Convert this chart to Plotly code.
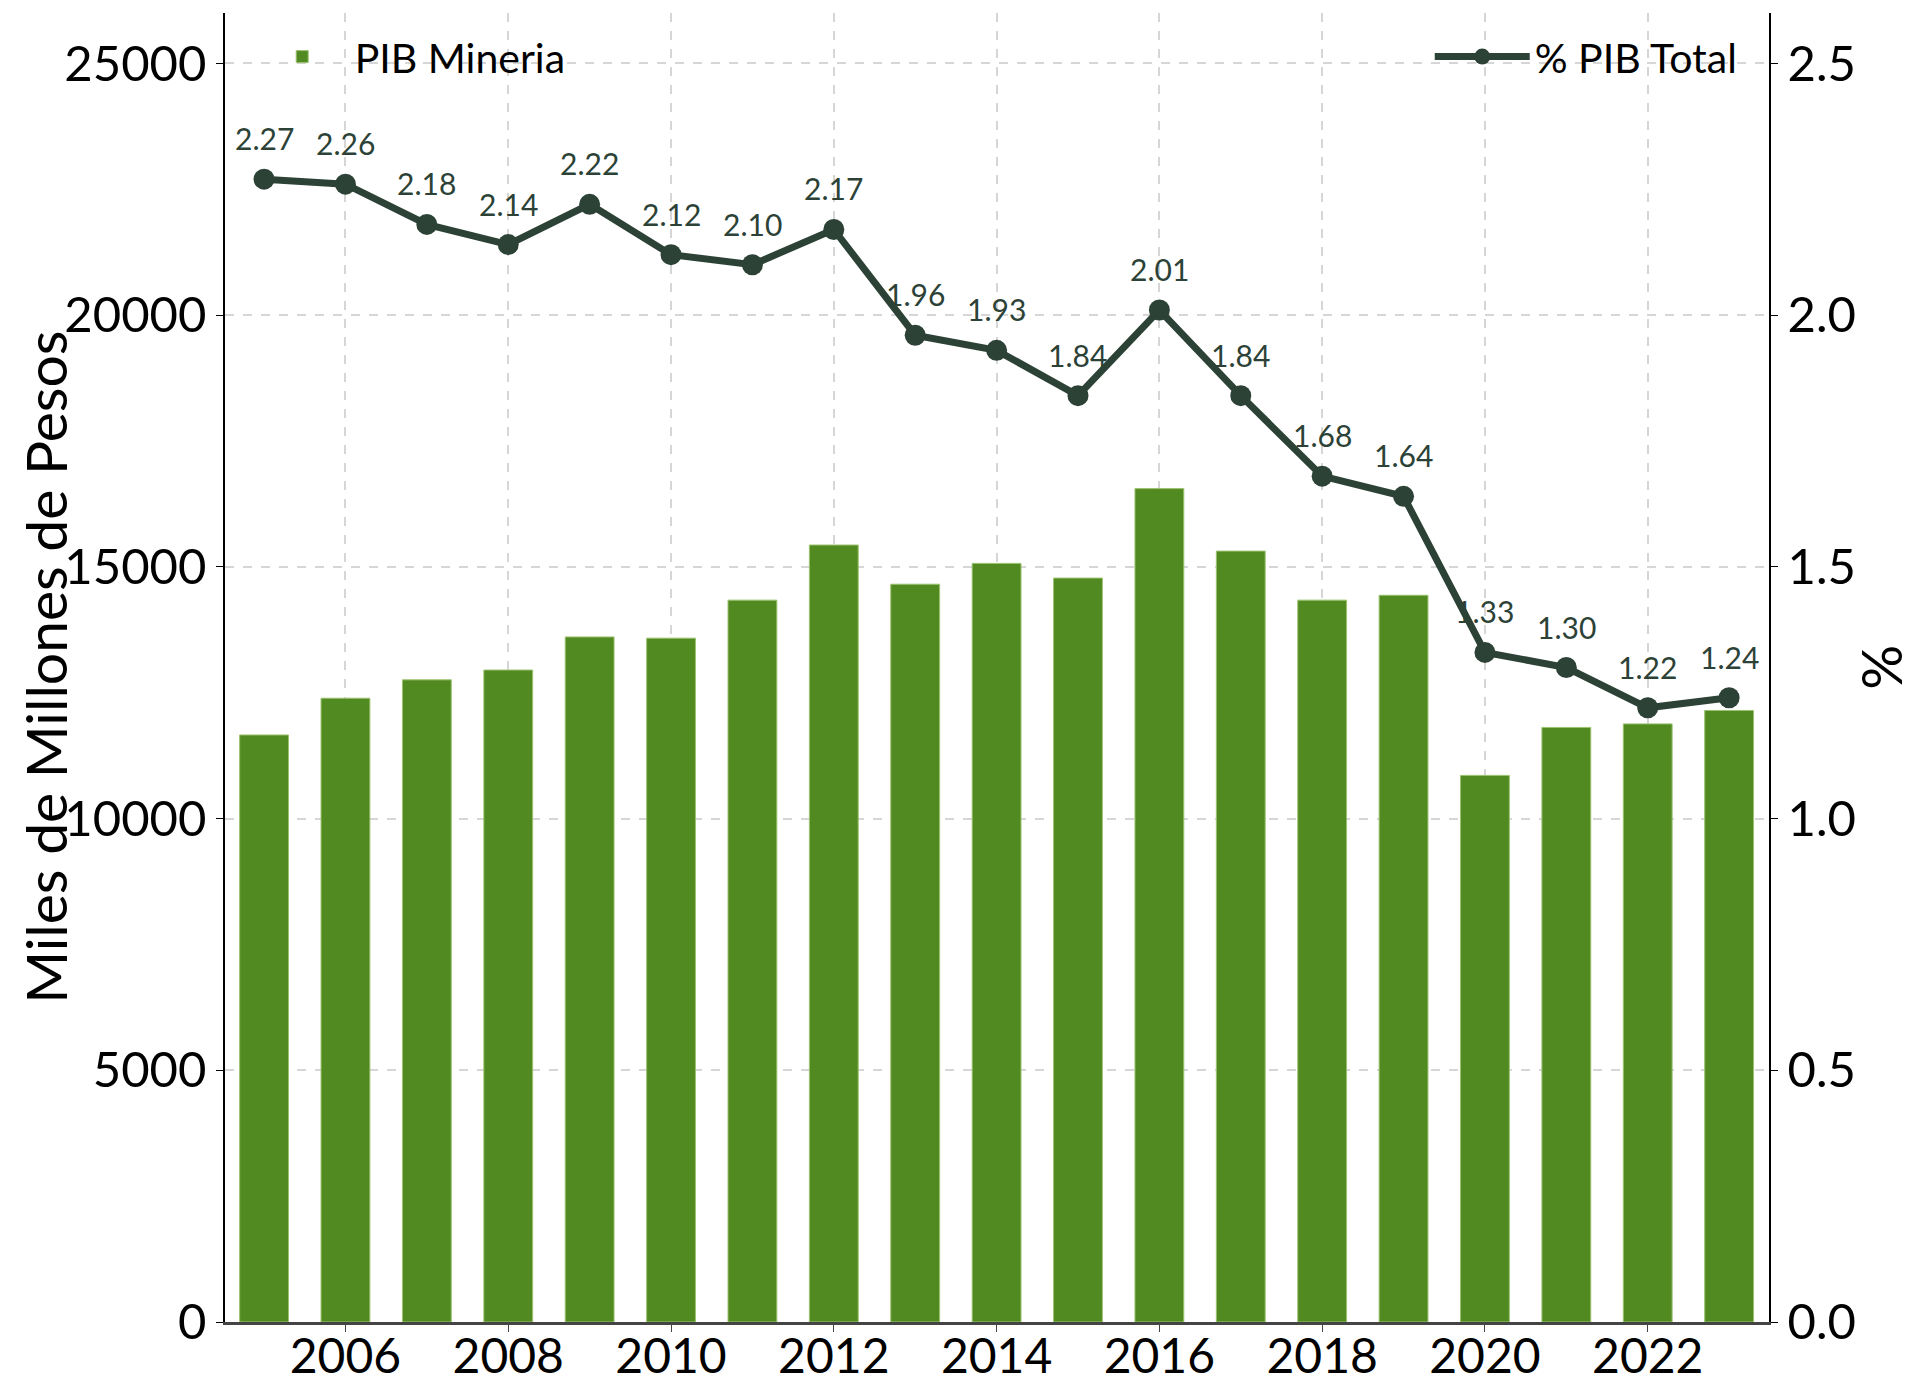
import plotly.graph_objects as go

# datos
anios = list(range(2005, 2024))
pib_mineria = [11660, 12390, 12755, 12950, 13607, 13583, 14338, 15433, 14654, 15068,
               14776, 16553, 15312, 14338, 14435, 10857, 11810, 11880, 12147]
pct_pib_total = [2.27, 2.26, 2.18, 2.14, 2.22, 2.12, 2.10, 2.17, 1.96, 1.93,
                 1.84, 2.01, 1.84, 1.68, 1.64, 1.33, 1.30, 1.22, 1.24]
ticks_x = list(range(2006, 2023, 2))

verde_barra = "#528a22"
verde_linea = "#2d4237"
fuente = "Lato"

fig = go.Figure()

fig.add_trace(go.Bar(
    x=anios, y=pib_mineria, name="PIB Mineria", width=0.6,
    marker=dict(color=verde_barra, line=dict(color="#9cc270", width=1)),
    legend="legend", showlegend=True,
))

fig.add_trace(go.Scatter(
    x=anios, y=pct_pib_total, name="% PIB Total", yaxis="y2",
    mode="lines+markers",
    line=dict(color=verde_linea, width=7),
    marker=dict(color=verde_linea, size=21),
    legend="legend2", showlegend=True,
))

# etiquetas de los puntos
for a, v in zip(anios, pct_pib_total):
    fig.add_annotation(x=a, y=v, yref="y2", text=f"{v:.2f}", showarrow=False,
                       yshift=41, font=dict(family=fuente, size=30, color=verde_linea))

# titulos de los ejes como anotaciones (el standoff no se respeta sin automargin)
fig.add_annotation(text="Miles de Millones de Pesos", xref="paper", yref="paper",
                   x=-0.117, y=0.5, textangle=-90, showarrow=False,
                   xanchor="center", yanchor="middle", font=dict(size=57))
fig.add_annotation(text="%", xref="paper", yref="paper",
                   x=1.072, y=0.5, textangle=-90, showarrow=False,
                   xanchor="center", yanchor="middle", font=dict(size=56))

grid = dict(showgrid=True, gridcolor="#d6d6d6", griddash="dash", gridwidth=1.5)

# la pagina tiene 8px de margen propio, de ahi 1912x1382
fig.update_layout(
    width=1912, height=1382,
    margin=dict(l=217, r=151, t=5, b=68),
    plot_bgcolor="white", paper_bgcolor="white",
    font=dict(family=fuente, size=48, color="black"),
    showlegend=True,
    xaxis=dict(range=[2004.52, 2023.49], tickvals=ticks_x, ticks="outside", ticklen=7,
               tickcolor="#444", showline=True, linecolor="#444", linewidth=3,
               tickfont=dict(size=48), ticklabelstandoff=-17,
               zeroline=False, automargin=False, **grid),
    yaxis=dict(range=[0, 26000], dtick=5000, tickformat="d", ticks="outside", ticklen=7,
               tickcolor="black", showline=True, linecolor="black", linewidth=1.5,
               zeroline=False, automargin=False, tickfont=dict(size=49), **grid),
    yaxis2=dict(range=[0, 2.6], dtick=0.5, tickformat=".1f", overlaying="y", side="right",
                ticks="outside", ticklen=7, tickcolor="black", showline=True,
                linecolor="black", linewidth=1.5, showgrid=False, zeroline=False,
                automargin=False, tickfont=dict(size=49)),
    legend=dict(x=0.016, y=0.992, xanchor="left", yanchor="top", bgcolor="rgba(0,0,0,0)",
                font=dict(size=41, family=fuente), itemwidth=95),
    legend2=dict(x=0.983, y=0.992, xanchor="right", yanchor="top", bgcolor="rgba(0,0,0,0)",
                 font=dict(size=41, family=fuente), itemwidth=95),
)

fig.write_html("out.html")
